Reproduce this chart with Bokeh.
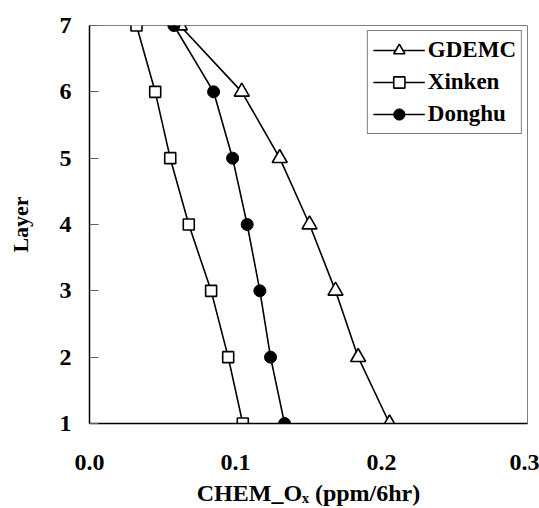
from bokeh.plotting import figure
from bokeh.models import Range1d, FixedTicker
from bokeh.embed import file_html
from bokeh.resources import INLINE

layers = [1, 2, 3, 4, 5, 6, 7]
gdemc = [0.2055, 0.184, 0.1685, 0.1507, 0.1303, 0.1043, 0.0619]
xinken = [0.105, 0.095, 0.0833, 0.068, 0.0553, 0.045, 0.0322]
donghu = [0.1336, 0.124, 0.1167, 0.108, 0.098, 0.085, 0.0578]
x_ticks = [0.0, 0.1, 0.2, 0.3]
x_tick_labels = ["0.0", "0.1", "0.2", "0.3"]
y_ticks = [1, 2, 3, 4, 5, 6, 7]

FONT = "Liberation Serif"

p = figure(width=539, height=508, output_backend="svg", toolbar_location=None,
           x_range=Range1d(0, 0.3), y_range=Range1d(1, 7),
           min_border_left=89, min_border_right=12, min_border_top=25, min_border_bottom=85)
p.background_fill_color = "white"
p.border_fill_color = "white"
p.outline_line_color = "#808080"
p.outline_line_width = 1
p.xgrid.visible = False
p.ygrid.visible = False

p.xaxis.ticker = FixedTicker(ticks=x_ticks)
p.xaxis.major_label_overrides = {t: l for t, l in zip(x_ticks, x_tick_labels)}
p.yaxis.ticker = FixedTicker(ticks=y_ticks)
for ax in (p.xaxis, p.yaxis):
    ax.axis_line_color = "black"
    ax.axis_line_width = 1.5
    ax.minor_tick_line_color = None
    ax.major_label_text_font = FONT
    ax.major_label_text_font_style = "bold"
    ax.major_label_text_font_size = "24px"
    ax.major_label_text_color = "black"
    ax.axis_label_text_font = FONT
    ax.axis_label_text_font_style = "bold"
    ax.axis_label_text_color = "black"
p.xaxis.major_tick_line_color = None
p.xaxis.major_label_standoff = 25
p.xaxis.axis_label = "CHEM_O\u2093 (ppm/6hr)"
p.xaxis.axis_label_text_font_size = "24px"
p.xaxis.axis_label_standoff = 7
p.yaxis.major_tick_in = 9
p.yaxis.major_tick_out = 0
p.yaxis.major_tick_line_color = "#606060"
p.yaxis.major_label_standoff = 18
p.yaxis.axis_label = "Layer"
p.yaxis.axis_label_text_font_size = "22px"
p.yaxis.axis_label_standoff = 24

lw = 1.6
p.line(gdemc, layers, line_color="black", line_width=lw, legend_label="GDEMC")
p.scatter(gdemc, layers, marker="triangle", size=15, fill_color="white",
          line_color="black", line_width=1.6, legend_label="GDEMC")
p.line(xinken, layers, line_color="black", line_width=lw, legend_label="Xinken")
p.scatter(xinken, layers, marker="square", size=11, fill_color="white",
          line_color="black", line_width=1.6, legend_label="Xinken")
p.line(donghu, layers, line_color="black", line_width=lw, legend_label="Donghu")
p.scatter(donghu, layers, marker="circle", size=12, fill_color="black",
          line_color="black", line_width=1, legend_label="Donghu")

lg = p.legend[0]
lg.location = "top_right"
lg.margin = 5
lg.padding = 5
lg.spacing = 4
lg.glyph_width = 52
lg.glyph_height = 28
lg.label_standoff = 3
lg.label_text_font = FONT
lg.label_text_font_style = "bold"
lg.label_text_font_size = "23px"
lg.label_text_color = "black"
lg.border_line_color = "black"
lg.border_line_width = 1
lg.background_fill_color = "white"
lg.background_fill_alpha = 1

open("out.html", "w").write(file_html(p, INLINE))
